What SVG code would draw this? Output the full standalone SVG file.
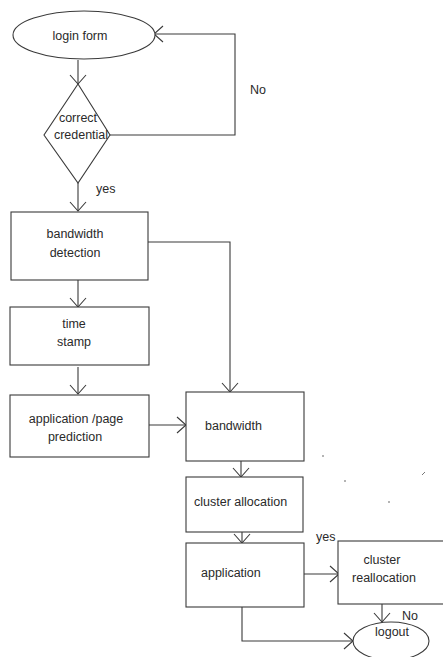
<svg xmlns="http://www.w3.org/2000/svg" width="443" height="657" viewBox="0 0 443 657">
<defs>
<marker id="arr" markerUnits="userSpaceOnUse" markerWidth="24" markerHeight="24" refX="0" refY="0" viewBox="-12 -12 24 24" orient="auto" overflow="visible">
<path d="M -9 -8 L 0 0 L -9 8" fill="none" stroke="#3a3a3a" stroke-width="1.1"/>
</marker>
</defs>
<style>
.s{fill:#fff;stroke:#3a3a3a;stroke-width:1.1}
.t{font-family:"Liberation Sans",Arial,sans-serif;font-size:12.5px;fill:#2a2a2a;text-anchor:middle}
.l{font-family:"Liberation Sans",Arial,sans-serif;font-size:12.5px;fill:#2a2a2a}
.c{fill:none;stroke:#3a3a3a;stroke-width:1.1}
</style>
<rect width="443" height="657" fill="#fff"/>
<g id="connectors">
<path class="c" d="M78 60 V84" marker-end="url(#arr)"/>
<path class="c" d="M110 135 H235 V34 H154" marker-end="url(#arr)"/>
<path class="c" d="M78 183 V211" marker-end="url(#arr)"/>
<path class="c" d="M148 242 H230 V392" marker-end="url(#arr)"/>
<path class="c" d="M78 280 V307" marker-end="url(#arr)"/>
<path class="c" d="M78 367 V394" marker-end="url(#arr)"/>
<path class="c" d="M149 425 H186" marker-end="url(#arr)"/>
<path class="c" d="M241 461 V477" marker-end="url(#arr)"/>
<path class="c" d="M242 532 V543" marker-end="url(#arr)"/>
<path class="c" d="M304 574 H339" marker-end="url(#arr)"/>
<path class="c" d="M382 604 V622" marker-end="url(#arr)"/>
<path class="c" d="M242 607 V641 H353" marker-end="url(#arr)"/>
<text class="l" x="250" y="94">No</text>
<text class="l" x="96" y="193">yes</text>
<text class="l" x="316" y="541">yes</text>
<text class="l" x="402" y="620">No</text>
</g>
<g id="login">
<ellipse class="s" cx="84" cy="35" rx="71" ry="24"/>
<text class="t" x="80" y="40">login form</text>
</g>
<g id="credential">
<polygon class="s" points="78,84 110,135 78,183 44,135"/>
<text class="t" x="78" y="122">correct</text>
<text class="t" x="81" y="139">credential</text>
</g>
<g id="bwdetect">
<rect class="s" x="11" y="212" width="137" height="68"/>
<text class="t" x="75" y="238">bandwidth</text>
<text class="t" x="75" y="257">detection</text>
</g>
<g id="timestamp">
<rect class="s" x="10" y="307" width="139" height="58"/>
<text class="t" x="74" y="328">time</text>
<text class="t" x="74" y="346">stamp</text>
</g>
<g id="prediction">
<rect class="s" x="10" y="395" width="139" height="62"/>
<text class="t" x="76" y="423">application /page</text>
<text class="t" x="75" y="441">prediction</text>
</g>
<g id="bandwidth">
<rect class="s" x="186" y="392" width="118" height="69"/>
<text class="l" x="205" y="430">bandwidth</text>
</g>
<g id="allocation">
<rect class="s" x="186" y="477" width="117" height="55"/>
<text class="l" x="194" y="506">cluster allocation</text>
</g>
<g id="application">
<rect class="s" x="186" y="543" width="118" height="64"/>
<text class="l" x="201" y="577">application</text>
</g>
<g id="reallocation">
<rect class="s" x="338" y="541" width="110" height="63"/>
<text class="t" x="382" y="564">cluster</text>
<text class="t" x="384" y="582">reallocation</text>
</g>
<g id="logout">
<ellipse class="s" cx="391" cy="641" rx="38" ry="19"/>
<text class="t" x="392" y="636">logout</text>
</g>
<g id="specks" fill="#555">
<circle cx="323" cy="456" r="0.8"/>
<circle cx="345" cy="481" r="0.8"/>
<circle cx="389" cy="502" r="0.8"/>
<path d="M422 475 L425 472" stroke="#555" stroke-width="0.8"/>
</g>
</svg>
